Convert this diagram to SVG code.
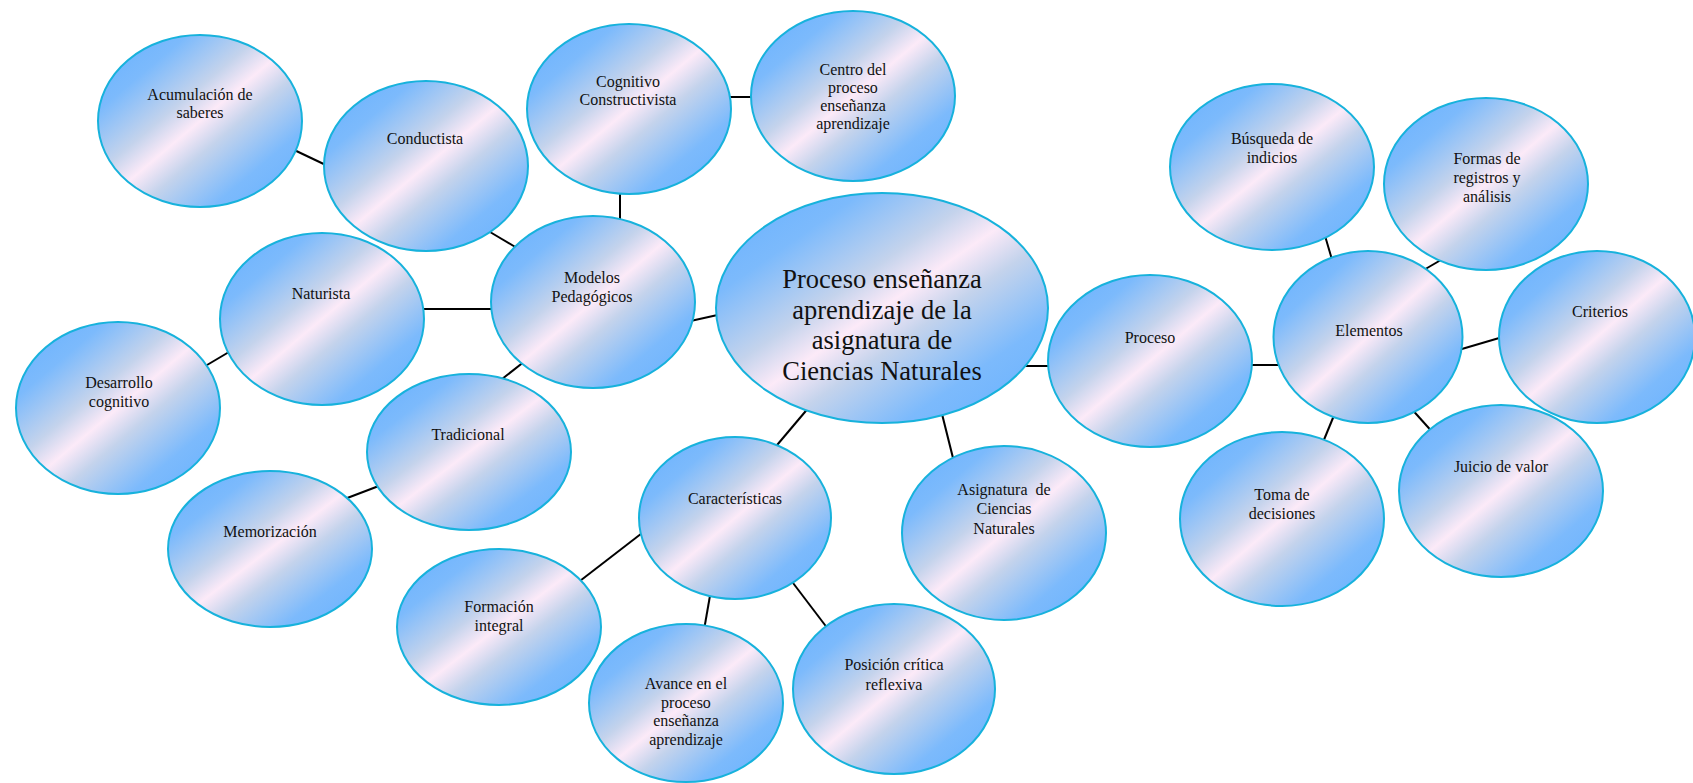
<svg xmlns="http://www.w3.org/2000/svg" width="1693" height="783" viewBox="0 0 1693 783">
<defs>
<linearGradient id="g" x1="0" y1="0" x2="1" y2="1">
<stop offset="0" stop-color="#66b0ff"/>
<stop offset="0.22" stop-color="#7cbafc"/>
<stop offset="0.4" stop-color="#c4d3ec"/>
<stop offset="0.5" stop-color="#fceaf8"/>
<stop offset="0.6" stop-color="#c4d3ec"/>
<stop offset="0.78" stop-color="#7cbafc"/>
<stop offset="1" stop-color="#66b0ff"/>
</linearGradient>
<style>
.n{fill:url(#g);stroke:#17b2dc;stroke-width:2}
.t{font-family:"Liberation Serif","Times New Roman",serif;font-size:16px;fill:#111;text-anchor:middle}
.big{font-size:26.5px}
.c line{stroke:#000;stroke-width:2}
</style>
</defs>
<rect width="1693" height="783" fill="#fff"/>
<g class="c" id="connectors">
<line x1="290" y1="148" x2="330" y2="167"/>
<line x1="485" y1="229" x2="522" y2="251"/>
<line x1="620" y1="188" x2="620" y2="223"/>
<line x1="726" y1="97" x2="758" y2="97"/>
<line x1="418" y1="309" x2="496" y2="309"/>
<line x1="202" y1="368" x2="234" y2="349"/>
<line x1="497" y1="383" x2="525" y2="361"/>
<line x1="342" y1="500" x2="384" y2="484"/>
<line x1="686" y1="322" x2="722" y2="314"/>
<line x1="1020" y1="366" x2="1054" y2="366"/>
<line x1="810" y1="406" x2="772" y2="451"/>
<line x1="941" y1="410" x2="954" y2="462"/>
<line x1="646" y1="530" x2="576" y2="584"/>
<line x1="711" y1="590" x2="704" y2="630"/>
<line x1="790" y1="579" x2="828" y2="629"/>
<line x1="1246" y1="365" x2="1280" y2="365"/>
<line x1="1323" y1="229" x2="1333" y2="263"/>
<line x1="1422" y1="271" x2="1446" y2="257"/>
<line x1="1455" y1="351" x2="1506" y2="336"/>
<line x1="1409" y1="406" x2="1435" y2="435"/>
<line x1="1335" y1="413" x2="1321" y2="447"/>
</g>
<g id="n-acumulacion"><ellipse class="n" cx="200" cy="121" rx="102" ry="86"/><text class="t" x="200" y="100">Acumulación de</text><text class="t" x="200" y="118">saberes</text></g>
<g id="n-conductista"><ellipse class="n" cx="426" cy="166" rx="102" ry="85"/><text class="t" x="425" y="144">Conductista</text></g>
<g id="n-cognitivo"><ellipse class="n" cx="629" cy="109" rx="102" ry="85"/><text class="t" x="628" y="86.5">Cognitivo</text><text class="t" x="628" y="105">Constructivista</text></g>
<g id="n-centro"><ellipse class="n" cx="853" cy="96" rx="102" ry="85"/><text class="t" x="853" y="75">Centro del</text><text class="t" x="853" y="93">proceso</text><text class="t" x="853" y="111">enseñanza</text><text class="t" x="853" y="129">aprendizaje</text></g>
<g id="n-modelos"><ellipse class="n" cx="593" cy="302" rx="102" ry="86"/><text class="t" x="592" y="283">Modelos</text><text class="t" x="592" y="302">Pedagógicos</text></g>
<g id="n-naturista"><ellipse class="n" cx="322" cy="319" rx="102" ry="86"/><text class="t" x="321" y="299">Naturista</text></g>
<g id="n-desarrollo"><ellipse class="n" cx="118" cy="408" rx="102" ry="86"/><text class="t" x="119" y="388">Desarrollo</text><text class="t" x="119" y="407">cognitivo</text></g>
<g id="n-tradicional"><ellipse class="n" cx="469" cy="452" rx="102" ry="78"/><text class="t" x="468" y="440">Tradicional</text></g>
<g id="n-memorizacion"><ellipse class="n" cx="270" cy="549" rx="102" ry="78"/><text class="t" x="270" y="537">Memorización</text></g>
<g id="n-central"><ellipse class="n" cx="882" cy="308" rx="166" ry="115"/><text class="t big" x="882" y="288">Proceso enseñanza</text><text class="t big" x="882" y="318.5">aprendizaje de la</text><text class="t big" x="882" y="349">asignatura de</text><text class="t big" x="882" y="379.5">Ciencias Naturales</text></g>
<g id="n-caracteristicas"><ellipse class="n" cx="735" cy="518" rx="96" ry="81"/><text class="t" x="735" y="504">Características</text></g>
<g id="n-formacion"><ellipse class="n" cx="499" cy="627" rx="102" ry="78"/><text class="t" x="499" y="612">Formación</text><text class="t" x="499" y="631">integral</text></g>
<g id="n-avance"><ellipse class="n" cx="686" cy="703" rx="97" ry="79"/><text class="t" x="686" y="689">Avance en el</text><text class="t" x="686" y="707.5">proceso</text><text class="t" x="686" y="726">enseñanza</text><text class="t" x="686" y="745">aprendizaje</text></g>
<g id="n-posicion"><ellipse class="n" cx="894" cy="689" rx="101" ry="85"/><text class="t" x="894" y="670">Posición crítica</text><text class="t" x="894" y="690">reflexiva</text></g>
<g id="n-asignatura"><ellipse class="n" cx="1004" cy="533" rx="102" ry="87"/><text class="t" x="1004" y="495" style="white-space:pre">Asignatura  de</text><text class="t" x="1004" y="514">Ciencias</text><text class="t" x="1004" y="534">Naturales</text></g>
<g id="n-proceso"><ellipse class="n" cx="1150" cy="361" rx="102" ry="86"/><text class="t" x="1150" y="342.5">Proceso</text></g>
<g id="n-elementos"><ellipse class="n" cx="1368" cy="337" rx="94.5" ry="86"/><text class="t" x="1369" y="336">Elementos</text></g>
<g id="n-busqueda"><ellipse class="n" cx="1272" cy="167" rx="102" ry="83"/><text class="t" x="1272" y="144">Búsqueda de</text><text class="t" x="1272" y="163">indicios</text></g>
<g id="n-formas"><ellipse class="n" cx="1486" cy="184" rx="102" ry="86"/><text class="t" x="1487" y="164">Formas de</text><text class="t" x="1487" y="183">registros y</text><text class="t" x="1487" y="202">análisis</text></g>
<g id="n-criterios"><ellipse class="n" cx="1597" cy="337" rx="98" ry="86"/><text class="t" x="1600" y="316.5">Criterios</text></g>
<g id="n-juicio"><ellipse class="n" cx="1501" cy="491" rx="102" ry="86"/><text class="t" x="1501" y="472">Juicio de valor</text></g>
<g id="n-toma"><ellipse class="n" cx="1282" cy="519" rx="102" ry="87"/><text class="t" x="1282" y="500">Toma de</text><text class="t" x="1282" y="519">decisiones</text></g>
</svg>
